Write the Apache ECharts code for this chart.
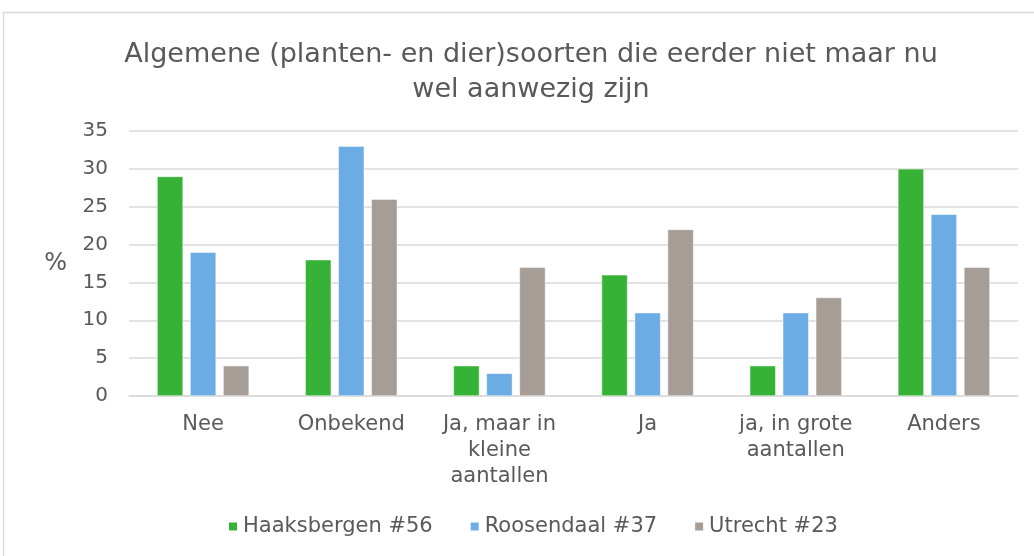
<!DOCTYPE html>
<html>
<head>
<meta charset="utf-8">
<script src="https://cdn.jsdelivr.net/npm/echarts@6/dist/echarts.min.js"></script>
<style>
  html, body { margin: 0; padding: 0; background: #fff; }
  #chart { width: 1034px; height: 556px; }
</style>
</head>
<body>
<div id="chart"></div>
<script>
// categories and values
var categories = ['Nee', 'Onbekend', 'Ja, maar in\nkleine\naantallen', 'Ja', 'ja, in grote\naantallen', 'Anders'];
var haaksbergen = [29, 18, 4, 16, 4, 30];
var roosendaal = [19, 33, 3, 11, 11, 24];
var utrecht = [4, 26, 17, 22, 13, 17];
var seriesNames = ['Haaksbergen #56', 'Roosendaal #37', 'Utrecht #23'];
var colors = ['#36b236', '#6aace3', '#a59d96'];

var font = 'DejaVu Sans, Verdana, sans-serif';
var myChart = echarts.init(document.getElementById('chart'));

var option = {
  animation: false,
  color: colors,
  title: {
    text: 'Algemene (planten- en dier)soorten die eerder niet maar nu\nwel aanwezig zijn',
    left: 526,
    textAlign: 'center',
    top: 32,
    textStyle: {
      color: '#595959',
      fontSize: 27,
      fontWeight: 'normal',
      fontFamily: font,
      lineHeight: 35
    }
  },
  // light frame: top and left edges only are visible in the reference
  graphic: [{
    type: 'rect',
    shape: { x: 3.5, y: 12.5, width: 1100, height: 600 },
    style: { fill: 'none', stroke: '#d9d9d9', lineWidth: 1.5 },
    silent: true
  }],
  legend: {
    top: 511,
    left: 222,
    itemWidth: 10,
    itemHeight: 10,
    itemGap: 36,
    icon: 'rect',
    data: seriesNames,
    textStyle: { color: '#595959', fontSize: 21, fontFamily: font }
  },
  grid: {
    left: 129,
    right: 16,
    top: 131,
    bottom: 160
  },
  xAxis: {
    type: 'category',
    data: categories,
    axisTick: { show: false },
    axisLine: { lineStyle: { color: '#d9d9d9', width: 1.5 } },
    axisLabel: {
      color: '#595959',
      fontSize: 21,
      fontFamily: font,
      lineHeight: 26,
      margin: 16,
      interval: 0
    }
  },
  yAxis: {
    type: 'value',
    min: 0,
    max: 35,
    interval: 5,
    name: '%',
    nameLocation: 'middle',
    nameRotate: 0,
    nameGap: 62,
    nameTextStyle: { color: '#595959', fontSize: 24, fontFamily: font, padding: [6, 0, 0, 0] },
    axisLine: { show: false },
    axisTick: { show: false },
    splitLine: { lineStyle: { color: '#d9d9d9', width: 1.5 } },
    axisLabel: {
      color: '#595959',
      fontSize: 20,
      fontFamily: font,
      margin: 21
    }
  },
  series: [
    { name: seriesNames[0], type: 'bar', data: haaksbergen, barWidth: 26, barGap: '27%',
      itemStyle: { borderColor: '#ffffff', borderWidth: 0.5 } },
    { name: seriesNames[1], type: 'bar', data: roosendaal, barWidth: 26, barGap: '27%',
      itemStyle: { borderColor: '#ffffff', borderWidth: 0.5 } },
    { name: seriesNames[2], type: 'bar', data: utrecht, barWidth: 26, barGap: '27%',
      itemStyle: { borderColor: '#ffffff', borderWidth: 0.5 } }
  ]
};

myChart.setOption(option);
</script>
</body>
</html>
